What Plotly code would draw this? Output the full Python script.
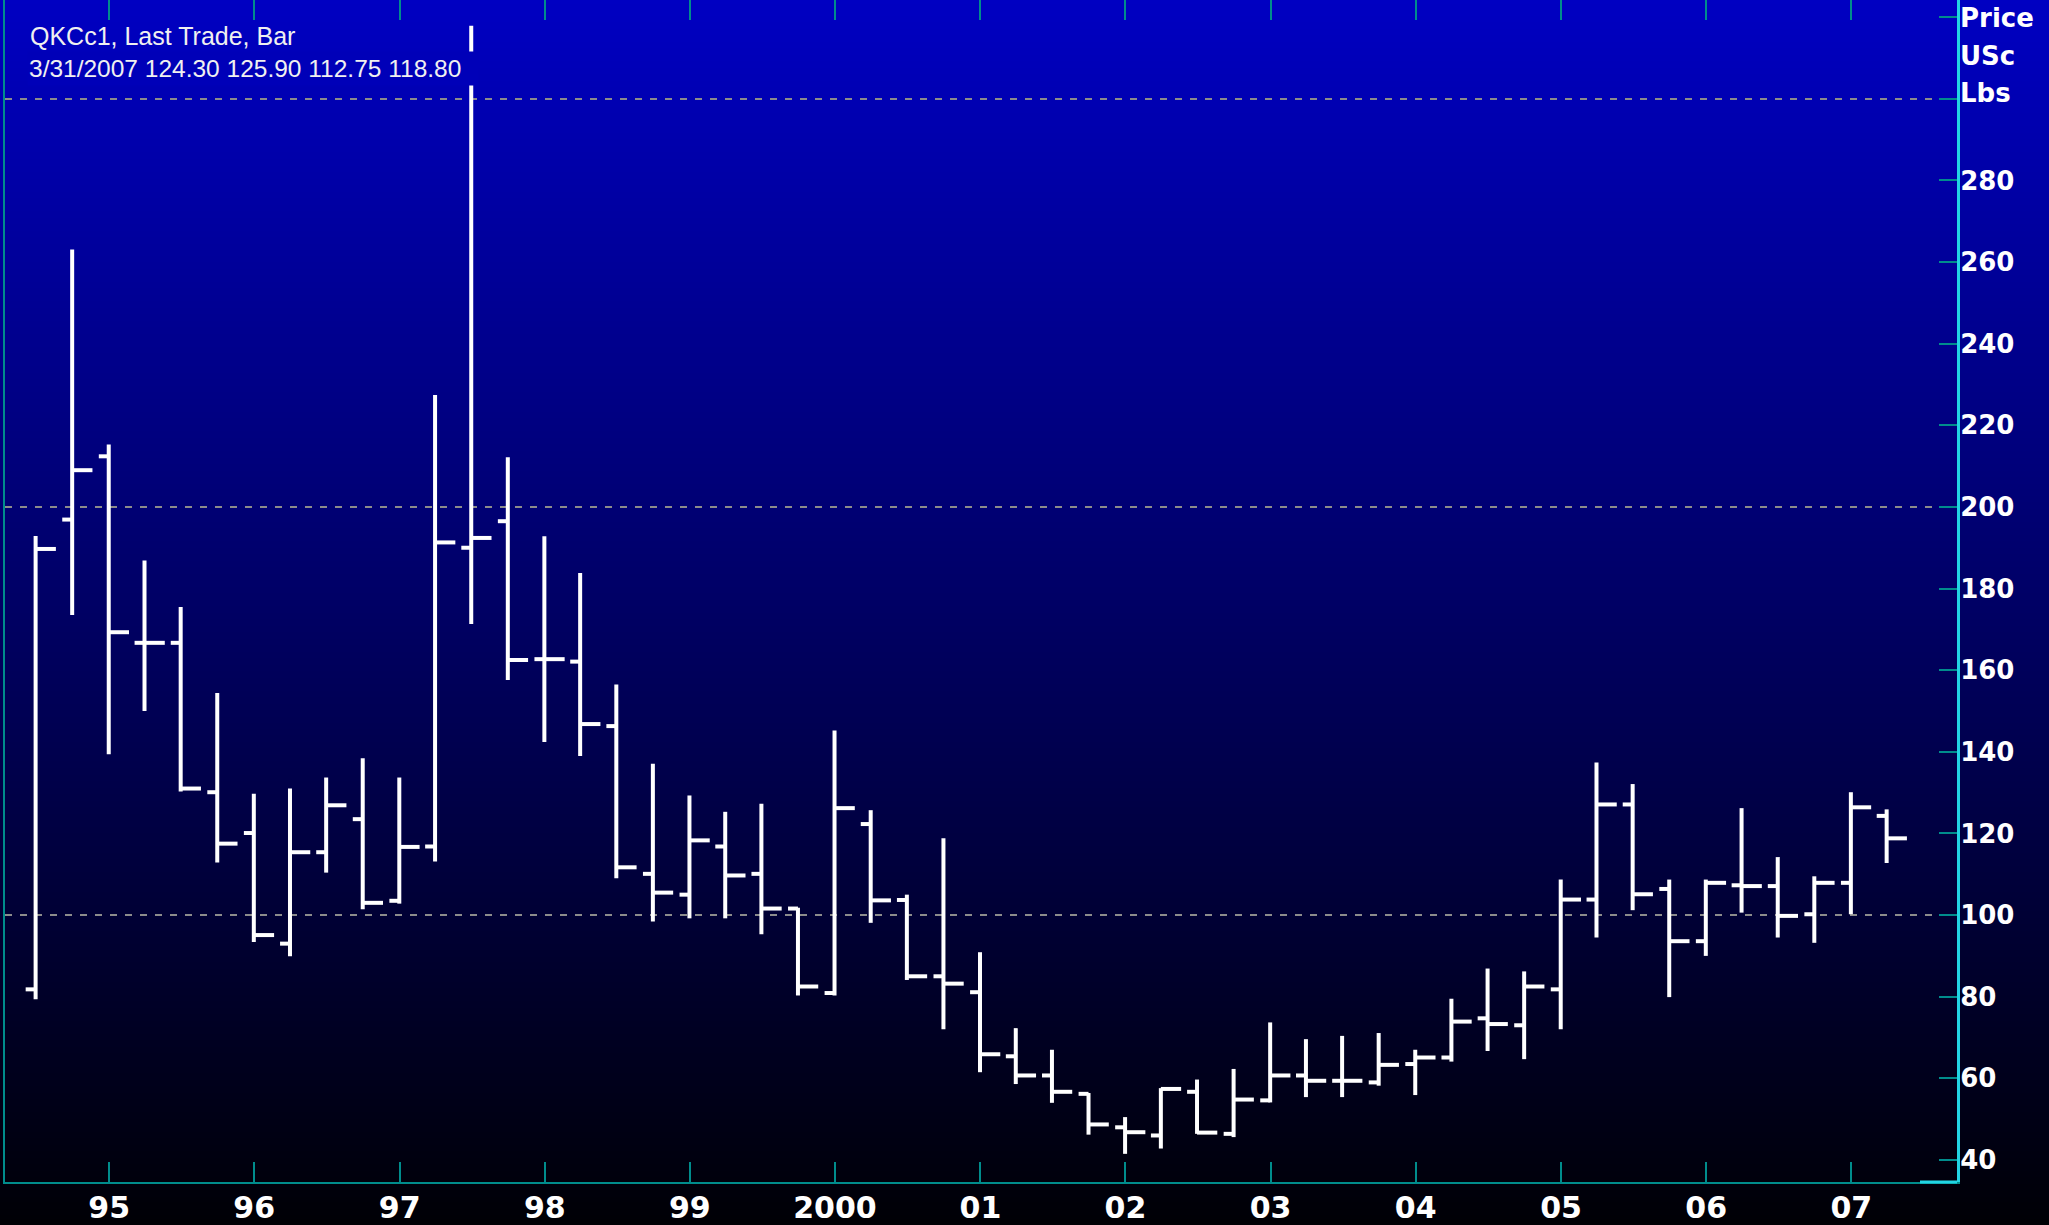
import zlib, struct, base64
import pandas as pd
import plotly.graph_objects as go

# ---------------- data (quarterly OHLC, US cents / lb) ----------------
dates = pd.date_range("1994-06-30", "2007-03-31", freq="QE").strftime("%Y-%m-%d").tolist()

opens = [81.8, 196.9, 212.4, 166.7, 166.7, 130.1, 120.1, 93.0, 115.4, 123.5,
         103.5, 116.8, 190.0, 196.5, 162.7, 162.1, 146.3, 110.1, 105.0, 116.8,
         110.1, 101.6, 80.9, 122.3, 103.7, 85.0, 81.1, 65.4, 60.7, 56.2,
         48.0, 46.0, 56.7, 46.4, 54.6, 60.7, 59.4, 59.0, 63.5, 65.1,
         74.7, 73.0, 81.8, 103.8, 127.1, 106.4, 93.6, 107.3, 107.1, 100.2,
         107.9, 124.30]
highs = [192.9, 263.1, 215.3, 186.9, 175.5, 154.4, 129.7, 131.0, 133.7, 138.4,
         133.7, 227.4, 317.9, 212.2, 192.8, 183.8, 156.5, 137.1, 129.3, 125.3,
         127.3, 101.8, 145.2, 125.7, 105.0, 118.8, 90.9, 72.3, 67.0, 56.4,
         50.5, 57.6, 59.7, 62.3, 73.7, 69.6, 70.4, 71.1, 67.0, 79.5,
         86.9, 86.2, 108.7, 137.4, 132.1, 108.7, 108.7, 126.2, 114.2, 109.5,
         130.1, 125.90]
lows = [79.4, 173.5, 139.4, 150.0, 130.3, 112.9, 93.4, 89.9, 110.4, 101.4,
        102.8, 113.1, 171.3, 157.6, 142.4, 139.0, 109.0, 98.4, 99.2, 99.2,
        95.3, 80.3, 80.3, 98.1, 84.1, 72.0, 61.5, 58.6, 54.0, 46.2,
        41.5, 42.8, 46.4, 45.6, 54.1, 55.4, 55.4, 58.2, 55.9, 64.1,
        66.7, 64.7, 72.0, 94.5, 101.2, 79.9, 90.0, 100.6, 94.5, 93.2,
        100.2, 112.75]
closes = [189.7, 209.0, 169.3, 166.7, 131.0, 117.5, 95.1, 115.4, 126.9, 103.0,
          116.7, 191.3, 192.4, 162.5, 162.7, 146.8, 111.7, 105.5, 118.3, 109.7,
          101.6, 82.5, 126.2, 103.6, 85.0, 83.2, 65.9, 60.7, 56.7, 48.7,
          46.8, 57.4, 46.7, 54.8, 60.7, 59.4, 59.4, 63.3, 65.1, 73.9,
          73.3, 82.5, 103.8, 127.1, 105.1, 93.6, 107.9, 107.1, 99.8, 107.9,
          126.4, 118.80]

year_ticks = [f"{y}-01-01" for y in range(1995, 2008)]
year_labels = ["95", "96", "97", "98", "99", "2000", "01", "02", "03", "04", "05", "06", "07"]
price_ticks = list(range(40, 340, 20))
price_labels = [str(v) if v <= 280 else "" for v in price_ticks]
grid_ticks = [100, 200, 300]

title_line1 = "QKCc1, Last Trade, Bar"
title_line2 = "3/31/2007 124.30 125.90 112.75 118.80"
unit_lines = ["Price", "USc", "Lbs"]

# ---------------- styling constants ----------------
W, H = 2049, 1225
ML, MR, MT, MB = 5, 92, 0, 38
PW, PH = W - ML - MR, H - MT - MB
TEAL = "#008C8C"
CYAN = "#22D4E4"
TOP_RGB = (0, 0, 194)
BOT_RGB = (0, 0, 6)
OPEN_TICK = pd.Timedelta(days=25)
CLOSE_TICK = pd.Timedelta(days=51)


def gradient_png(h, top, bottom):
    rows = bytearray()
    for i in range(h):
        t = i / (h - 1)
        c = [int(round(top[k] + (bottom[k] - top[k]) * t)) for k in range(3)]
        rows += b"\x00" + bytes(c * 2)

    def chunk(tag, data):
        return (struct.pack(">I", len(data)) + tag + data
                + struct.pack(">I", zlib.crc32(tag + data) & 0xFFFFFFFF))

    ihdr = struct.pack(">IIBBBBB", 2, h, 8, 2, 0, 0, 0)
    png = (b"\x89PNG\r\n\x1a\n" + chunk(b"IHDR", ihdr)
           + chunk(b"IDAT", zlib.compress(bytes(rows), 9)) + chunk(b"IEND", b""))
    return "data:image/png;base64," + base64.b64encode(png).decode()


def px_x(p):
    return (p - ML) / PW


def px_y(p):
    return 1 - (p - MT) / PH


# ---------------- build bar paths from data ----------------
xs, ys = [], []
for d, o, h, l, c in zip(dates, opens, highs, lows, closes):
    t = pd.Timestamp(d)
    xs += [d, d, None]
    ys += [l, h, None]
    xs += [(t - OPEN_TICK).strftime("%Y-%m-%d"), d, None]
    ys += [o, o, None]
    xs += [d, (t + CLOSE_TICK).strftime("%Y-%m-%d"), None]
    ys += [c, c, None]

fig = go.Figure()
fig.add_trace(go.Scatter(x=xs, y=ys, mode="lines",
                         line=dict(color="white", width=4),
                         hoverinfo="skip", showlegend=False))
# helper trace to activate the overlay axes (ticks on top, grid/left line)
fig.add_trace(go.Scatter(x=[dates[0]], y=[100], mode="markers",
                         marker=dict(opacity=0), xaxis="x2", yaxis="y2",
                         hoverinfo="skip", showlegend=False))

xrange = ["1994-04-14", "2007-09-24"]
yrange = [34.6, 324.2]

fig.update_layout(
    width=W, height=H, autosize=False,
    margin=dict(l=ML, r=MR, t=MT, b=MB, pad=0),
    paper_bgcolor="#000004",
    plot_bgcolor="rgba(0,0,0,0)",
    showlegend=False,
    font=dict(family="DejaVu Sans", color="white"),
    xaxis=dict(type="date", range=xrange, tickmode="array",
               tickvals=year_ticks, ticktext=year_labels,
               ticks="inside", ticklen=20, tickwidth=2, tickcolor=TEAL,
               showline=True, linecolor=TEAL, linewidth=2,
               showgrid=False, zeroline=False, ticklabelstandoff=-2,
               tickfont=dict(family="DejaVu Sans", size=30, color="white", weight="bold")),
    xaxis2=dict(type="date", range=xrange, overlaying="x", side="top", anchor="y2",
                tickmode="array", tickvals=year_ticks, showticklabels=False,
                ticks="inside", ticklen=20, tickwidth=2, tickcolor=TEAL,
                showline=False, showgrid=False, zeroline=False),
    yaxis=dict(range=yrange, side="right", tickmode="array",
               tickvals=price_ticks, ticktext=price_labels,
               ticks="inside", ticklen=18, tickwidth=2, tickcolor=TEAL,
               showline=True, linecolor=CYAN, linewidth=3,
               showgrid=False, zeroline=False, ticklabelstandoff=-5,
               tickfont=dict(family="DejaVu Sans", size=26, color="white", weight="bold")),
    yaxis2=dict(range=yrange, overlaying="y", side="left", anchor="x2",
                tickmode="array", tickvals=grid_ticks, showticklabels=False,
                ticks="", showline=True, linecolor=TEAL, linewidth=2,
                showgrid=True, gridcolor="#8C8C8C", gridwidth=2, griddash="7px,8px",
                zeroline=False),
    images=[dict(source=gradient_png(H, TOP_RGB, BOT_RGB),
                 xref="paper", yref="paper",
                 x=-ML / PW, y=1 + MT / PH, sizex=W / PW, sizey=H / PH,
                 xanchor="left", yanchor="top", sizing="stretch", layer="below")],
    shapes=[dict(type="line", xref="paper", yref="paper",
                 x0=px_x(1920), x1=1, y0=0, y1=0,
                 line=dict(color=CYAN, width=3))],
)

annotations = [
    dict(text=title_line1, xref="paper", yref="paper",
         x=px_x(28), y=px_y(36), xanchor="left", yanchor="middle",
         showarrow=False, font=dict(family="Liberation Sans", size=25, color="#F0F0F0")),
    dict(text=title_line2, xref="paper", yref="paper",
         x=px_x(27), y=px_y(51), xanchor="left", yanchor="top",
         width=448, height=31, align="left", borderpad=1,
         bgcolor="rgb(0,0,184)",
         showarrow=False, font=dict(family="Liberation Sans", size=24.5, color="#F0F0F0")),
]
for txt, cy in zip(unit_lines, [18, 56, 93]):
    annotations.append(dict(text=txt, xref="paper", yref="paper",
                            x=px_x(1958), y=px_y(cy), xanchor="left", yanchor="middle",
                            showarrow=False,
                            font=dict(family="DejaVu Sans", size=26, color="white", weight="bold")))
fig.update_layout(annotations=annotations)

fig.write_html("out.html",
               config={"displayModeBar": False},
               post_script="document.body.style.margin='0';document.body.style.overflow='hidden';")
